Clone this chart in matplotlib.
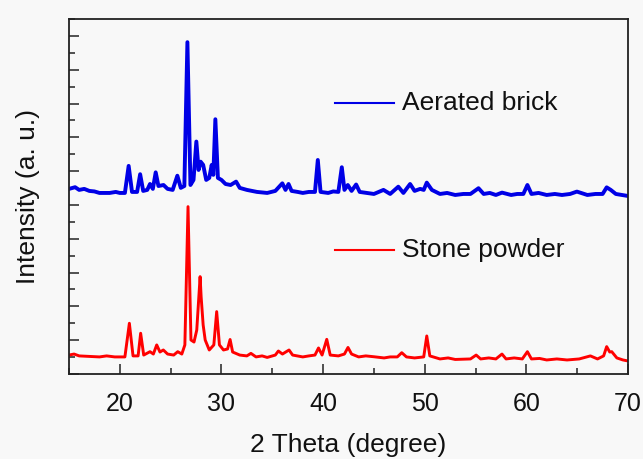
import matplotlib
matplotlib.use("Agg")

import matplotlib.pyplot as plt
from matplotlib.ticker import MultipleLocator, NullFormatter

plt.rcParams["font.family"] = ["Liberation Sans", "DejaVu Sans"]

# XRD patterns (2 theta in degree, intensity in a.u.)
brick_2theta = [
    15.0, 15.6, 16.0, 16.5, 17.0, 17.5, 18.0, 19.0, 19.6, 20.0, 20.5, 20.87, 21.2,
    21.7, 22.0, 22.3, 22.7, 22.97, 23.25, 23.53, 23.8, 24.3, 24.7, 25.2, 25.66,
    26.0, 26.35, 26.65, 26.95, 27.25, 27.53, 27.75, 27.95, 28.2, 28.5, 28.8,
    29.04, 29.2, 29.4, 29.65, 30.0, 30.4, 30.9, 31.44, 31.8, 32.5, 33.0, 33.5,
    34.5, 35.3, 35.99, 36.3, 36.6, 36.9, 37.5, 38.0, 38.6, 39.2, 39.48, 39.75,
    40.5, 41.0, 41.5, 41.84, 42.1, 42.43, 42.8, 43.25, 43.6, 44.3, 45.0, 45.94,
    46.6, 47.4, 47.9, 48.56, 49.0, 49.55, 49.9, 50.2, 50.7, 51.5, 52.2, 53.0,
    53.8, 54.5, 55.29, 55.8, 56.4, 57.0, 57.6, 58.5, 59.1, 59.7, 60.1, 60.5,
    61.2, 62.0, 62.8, 63.5, 64.3, 64.97, 66.0, 66.8, 67.5, 67.9, 68.3, 68.8,
    69.4, 70.0,
]
brick_int = [
    10.95, 11.05, 10.89, 10.95, 10.83, 10.80, 10.71, 10.71, 10.77, 10.71, 10.71, 12.31, 10.77,
    10.77, 11.82, 10.83, 10.89, 11.24, 10.95, 11.93, 11.12, 11.18, 10.95, 10.89, 11.73,
    11.01, 11.12, 19.63, 11.18, 11.48, 13.75, 12.07, 12.56, 12.37, 11.48, 11.60,
    12.37, 11.78, 15.07, 11.60, 11.48, 11.24, 11.18, 11.38, 11.01, 10.89, 10.83, 10.77,
    10.71, 10.83, 11.28, 10.89, 11.24, 10.83, 10.77, 10.71, 10.77, 10.77, 12.66, 10.77,
    10.71, 10.80, 10.77, 12.23, 10.89, 11.18, 10.83, 11.21, 10.77, 10.71, 10.65, 10.89,
    10.65, 11.08, 10.71, 11.24, 10.83, 10.95, 10.89, 11.32, 10.89, 10.65, 10.71, 10.59,
    10.65, 10.65, 10.99, 10.65, 10.71, 10.59, 10.73, 10.59, 10.65, 10.65, 11.18, 10.65,
    10.71, 10.59, 10.65, 10.59, 10.65, 10.79, 10.59, 10.65, 10.65, 11.04, 10.89, 10.65,
    10.59, 10.53,
]

stone_2theta = [
    15.0, 15.5, 16.0, 17.0, 18.0, 18.7, 19.5, 20.5, 20.94, 21.3, 21.8, 22.05, 22.35,
    22.97, 23.3, 23.63, 23.95, 24.28, 24.7, 25.3, 25.7, 26.1, 26.4, 26.71, 27.0,
    27.3, 27.57, 27.9, 28.0, 28.2, 28.4, 28.8, 29.25, 29.53, 29.8, 30.2, 30.6,
    30.85, 31.1, 31.8, 32.5, 32.9, 33.4, 34.0, 34.5, 35.3, 35.6, 36.0, 36.65,
    37.0, 38.0, 38.6, 39.2, 39.55, 39.9, 40.36, 40.7, 41.5, 42.1, 42.45, 42.8,
    43.5, 44.2, 45.0, 46.0, 46.6, 47.3, 47.74, 48.2, 49.0, 49.9, 50.2, 50.5,
    51.5, 52.3, 53.0, 54.5, 55.06, 55.5, 56.3, 57.0, 57.6, 58.0, 58.8, 59.6,
    60.1, 60.5, 61.3, 62.0, 63.0, 64.0, 65.2, 66.3, 67.0, 67.6, 67.9, 68.2,
    68.4, 68.9, 69.5, 70.0,
]
stone_int = [
    1.12, 1.18, 1.07, 1.04, 1.01, 1.07, 1.01, 1.01, 3.00, 1.07, 1.07, 2.41, 1.12,
    1.32, 1.18, 1.72, 1.30, 1.42, 1.18, 1.12, 1.32, 1.18, 1.72, 9.90, 2.01,
    1.89, 2.60, 5.76, 4.57, 2.90, 2.01, 1.42, 1.72, 3.69, 1.72, 1.42, 1.48,
    2.04, 1.30, 1.12, 1.07, 1.22, 1.01, 1.07, 0.98, 1.12, 1.36, 1.18, 1.42,
    1.12, 1.01, 1.07, 1.12, 1.54, 1.12, 2.05, 1.12, 1.07, 1.18, 1.57, 1.18,
    1.01, 1.07, 1.02, 0.95, 1.01, 1.01, 1.26, 1.01, 0.95, 1.01, 2.25, 1.07,
    0.89, 0.95, 0.86, 0.89, 1.12, 0.89, 0.95, 0.89, 1.18, 0.89, 0.95, 0.89,
    1.32, 0.89, 0.92, 0.83, 0.89, 0.83, 0.89, 1.07, 0.89, 1.07, 1.62, 1.30,
    1.32, 0.95, 0.83, 0.77,
]

BG = "#f8f8f8"

fig = plt.figure(figsize=(6.43, 4.59), dpi=100, facecolor=BG)
ax = fig.add_axes([0.1073, 0.1852, 0.8694, 0.7734], facecolor=BG)

ax.plot(brick_2theta, brick_int, color="#0000e6", lw=2.8, solid_joinstyle="round")
ax.plot(stone_2theta, stone_int, color="#ff0000", lw=2.1, solid_joinstyle="round")

ax.set_xlim(15, 70)
ax.set_ylim(0, 21)

ax.xaxis.set_major_locator(MultipleLocator(10))
ax.xaxis.set_minor_locator(MultipleLocator(5))
ax.yaxis.set_major_locator(MultipleLocator(2))
ax.yaxis.set_minor_locator(MultipleLocator(1))
ax.yaxis.set_major_formatter(NullFormatter())

ax.tick_params(which="both", direction="in", top=False, right=False,
               width=1.1, colors="#222222", labelsize=18, labelcolor="#111111")
ax.tick_params(which="major", length=7, pad=13)
ax.tick_params(which="minor", length=4)
for sp in ax.spines.values():
    sp.set_linewidth(1.3)
    sp.set_color("#222222")

ax.set_xlabel("2 Theta (degree)", fontsize=19, color="#111111", labelpad=12)
ax.set_ylabel("Intensity (a. u.)", fontsize=19, color="#111111", labelpad=8)

# hand-placed legend entries
legend = [("Aerated brick", "#0000e6", 0.763), ("Stone powder", "#ff0000", 0.349)]
for name, col, ypos in legend:
    ax.plot([0.476, 0.581], [ypos, ypos], color=col, lw=1.5, transform=ax.transAxes)
    ax.text(0.596, ypos, name, transform=ax.transAxes, fontsize=19,
            va="center", ha="left", color="#111111")

fig.savefig("out.png", dpi=100, facecolor=BG)
